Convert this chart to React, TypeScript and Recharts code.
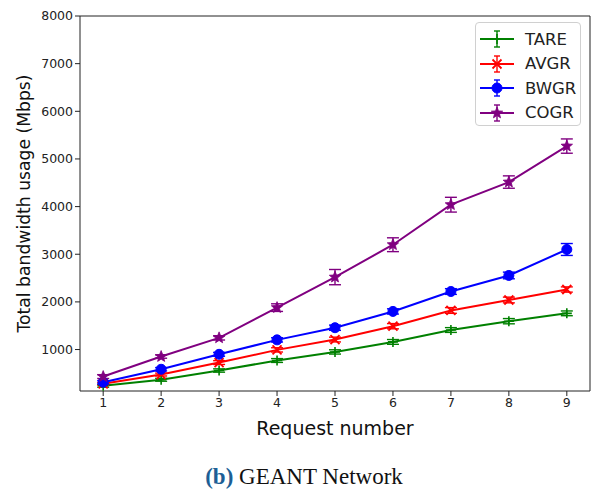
import {
  ErrorBar,
  Label,
  Line,
  LineChart,
  ReferenceLine,
  XAxis,
  YAxis,
} from 'recharts';

const requests = [1, 2, 3, 4, 5, 6, 7, 8, 9];
const tare = [240, 365, 560, 770, 950, 1160, 1410, 1595, 1760];
const tareErr = [30, 30, 35, 40, 45, 50, 50, 55, 50];
const avgr = [280, 475, 727, 993, 1210, 1490, 1820, 2040, 2260];
const avgrErr = [30, 30, 40, 45, 50, 55, 60, 60, 55];
const bwgr = [313, 586, 900, 1203, 1458, 1800, 2218, 2555, 3100];
const bwgrErr = [35, 35, 40, 45, 55, 55, 60, 70, 125];
const cogr = [433, 853, 1245, 1880, 2520, 3200, 4040, 4515, 5270];
const cogrErr = [40, 35, 45, 80, 160, 145, 155, 130, 150];

const xTicks = [1, 2, 3, 4, 5, 6, 7, 8, 9];
const yTicks = [1000, 2000, 3000, 4000, 5000, 6000, 7000, 8000];

const GREEN = '#008000';
const RED = '#ff0000';
const BLUE = '#0000ff';
const PURPLE = '#800080';
const FONT = '"DejaVu Sans", sans-serif';

const rows = requests.map((r, i) => ({
  req: r,
  tare: tare[i],
  tareErr: tareErr[i],
  avgr: avgr[i],
  avgrErr: avgrErr[i],
  bwgr: bwgr[i],
  bwgrErr: bwgrErr[i],
  cogr: cogr[i],
  cogrErr: cogrErr[i],
}));

type Shape = 'plus' | 'cross' | 'circle' | 'star';

function starPath(cx: number, cy: number, ro: number, ri: number) {
  const pts: string[] = [];
  for (let k = 0; k < 10; k++) {
    const a = -Math.PI / 2 + (k * Math.PI) / 5;
    const r = k % 2 === 0 ? ro : ri;
    pts.push(`${cx + r * Math.cos(a)},${cy + r * Math.sin(a)}`);
  }
  return `M${pts.join('L')}Z`;
}

function Marker({ cx, cy, shape, color }: { cx: number; cy: number; shape: Shape; color: string }) {
  if (shape === 'plus') {
    return (
      <path
        d={`M${cx - 5},${cy}H${cx + 5}M${cx},${cy - 5}V${cy + 5}`}
        stroke={color}
        strokeWidth={1.6}
        fill="none"
      />
    );
  }
  if (shape === 'cross') {
    return (
      <path
        d={`M${cx - 4.5},${cy - 4.5}L${cx + 4.5},${cy + 4.5}M${cx - 4.5},${cy + 4.5}L${cx + 4.5},${cy - 4.5}`}
        stroke={color}
        strokeWidth={1.8}
        fill="none"
      />
    );
  }
  if (shape === 'circle') {
    return <circle cx={cx} cy={cy} r={5} fill={color} stroke={color} />;
  }
  return <path d={starPath(cx, cy, 6, 2.6)} fill={color} stroke={color} strokeWidth={0.8} />;
}

function dotFor(shape: Shape, color: string) {
  return (props: any) => {
    const { cx, cy, index } = props;
    if (cx == null || cy == null) return <g key={`n${index}`} />;
    return (
      <g key={`${shape}${index}`}>
        <Marker cx={cx} cy={cy} shape={shape} color={color} />
      </g>
    );
  };
}

const series: { key: string; name: string; color: string; shape: Shape }[] = [
  { key: 'tare', name: 'TARE', color: GREEN, shape: 'plus' },
  { key: 'avgr', name: 'AVGR', color: RED, shape: 'cross' },
  { key: 'bwgr', name: 'BWGR', color: BLUE, shape: 'circle' },
  { key: 'cogr', name: 'COGR', color: PURPLE, shape: 'star' },
];

function LegendBox() {
  return (
    <div
      style={{
        position: 'absolute',
        top: 22,
        left: 475,
        border: '1px solid #d0d0d0',
        borderRadius: 4,
        background: 'rgba(255,255,255,0.85)',
        width: 106,
        height: 104,
        boxSizing: 'border-box',
        padding: '4px 0 0 2px',
      }}
    >
      {series.map((s) => (
        <div key={s.key} style={{ display: 'flex', alignItems: 'center', height: 24.5 }}>
          <svg width={40} height={22}>
            <line x1={2} x2={36} y1={11} y2={11} stroke={s.color} strokeWidth={2} />
            <line x1={19} x2={19} y1={3} y2={19} stroke={s.color} strokeWidth={1.4} />
            <line x1={16} x2={22} y1={3} y2={3} stroke={s.color} strokeWidth={1.4} />
            <line x1={16} x2={22} y1={19} y2={19} stroke={s.color} strokeWidth={1.4} />
            <Marker cx={19} cy={11} shape={s.shape} color={s.color} />
          </svg>
          <span style={{ fontFamily: FONT, fontSize: 16.5, color: '#222', marginLeft: 7 }}>
            {s.name}
          </span>
        </div>
      ))}
    </div>
  );
}

export default function App() {
  return (
    <div style={{ position: 'relative', width: 593, height: 489, background: '#fff', overflow: 'hidden' }}>
      <style>{`body{margin:0}`}</style>
      <LineChart
        width={593}
        height={489}
        data={rows}
        margin={{ top: 16, right: 3, bottom: 68, left: 20 }}
      >
        <XAxis
          dataKey="req"
          type="number"
          domain={[0.6, 9.4]}
          ticks={xTicks}
          allowDataOverflow
          stroke="#222"
          tickSize={5}
          tick={{ fill: '#222', fontSize: 12.5, fontFamily: FONT }}
          height={30}
        >
          <Label
            value="Request number"
            position="insideBottom"
            offset={-14}
            style={{ fill: '#111', fontSize: 19, fontFamily: FONT }}
          />
        </XAxis>
        <YAxis
          type="number"
          domain={[130, 8000]}
          ticks={yTicks}
          allowDataOverflow
          stroke="#222"
          tickSize={5}
          tick={{ fill: '#222', fontSize: 12.5, fontFamily: FONT }}
          width={60}
        >
          <Label
            value="Total bandwidth usage (Mbps)"
            angle={-90}
            position="insideLeft"
            offset={4}
            style={{ fill: '#111', fontSize: 17.2, fontFamily: FONT, textAnchor: 'middle' }}
          />
        </YAxis>
        <ReferenceLine y={8000} stroke="#222" />
        <ReferenceLine x={9.4} stroke="#222" />
        {series.map((s) => (
          <Line
            key={s.key}
            dataKey={s.key}
            name={s.name}
            stroke={s.color}
            strokeWidth={2}
            dot={dotFor(s.shape, s.color)}
            activeDot={false}
            isAnimationActive={false}
          >
            <ErrorBar
              dataKey={`${s.key}Err`}
              direction="y"
              width={6}
              stroke={s.color}
              strokeWidth={1.4}
              isAnimationActive={false}
            />
          </Line>
        ))}
      </LineChart>
      <LegendBox />
      <div
        style={{
          position: 'absolute',
          top: 465,
          left: 0,
          width: 608,
          textAlign: 'center',
          fontFamily: '"Liberation Serif", "Times New Roman", serif',
          fontSize: 23,
          lineHeight: 1,
          color: '#111',
          whiteSpace: 'nowrap',
        }}
      >
        <span style={{ fontWeight: 'bold', color: '#1d5f96' }}>(b)</span> GEANT Network
      </div>
    </div>
  );
}
